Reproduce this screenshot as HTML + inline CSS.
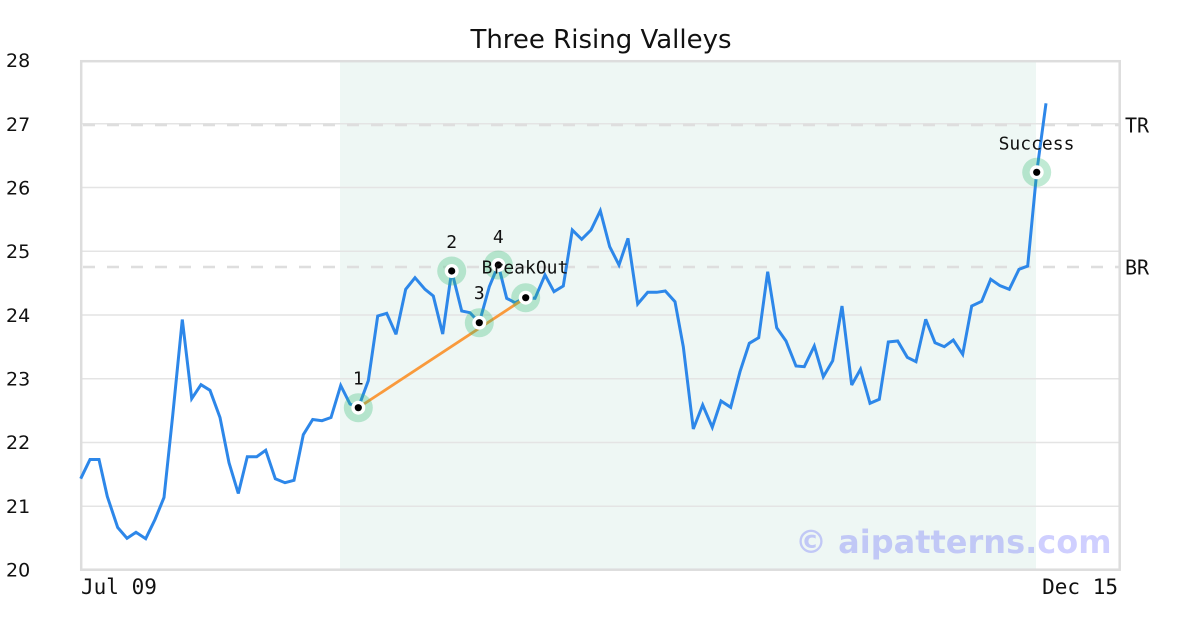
<!DOCTYPE html>
<html>
<head>
<meta charset="utf-8">
<style>
  html, body { margin: 0; padding: 0; background: #ffffff; }
  body { width: 1200px; height: 630px; overflow: hidden; }
  svg { display: block; }
  .mono { font-family: "DejaVu Sans Mono", "Liberation Mono", monospace; }
  .sans { font-family: "DejaVu Sans", "Liberation Sans", sans-serif; }
</style>
</head>
<body>
<svg width="1200" height="630" viewBox="0 0 1200 630" xmlns="http://www.w3.org/2000/svg">
  <rect x="0" y="0" width="1200" height="630" fill="#ffffff"/>

  <!-- title -->
  <text x="601" y="48" text-anchor="middle" class="sans" font-size="26" fill="#111">Three Rising Valleys</text>

  <!-- shaded pattern region -->
  <rect x="340" y="61" width="696" height="508" fill="#eef7f4"/>

  <!-- grid lines -->
  <g stroke="#e4e4e4" stroke-width="1.5">
    <line x1="81" y1="123.75" x2="1120" y2="123.75"/>
    <line x1="81" y1="187.5" x2="1120" y2="187.5"/>
    <line x1="81" y1="251.25" x2="1120" y2="251.25"/>
    <line x1="81" y1="315" x2="1120" y2="315"/>
    <line x1="81" y1="378.75" x2="1120" y2="378.75"/>
    <line x1="81" y1="442.5" x2="1120" y2="442.5"/>
    <line x1="81" y1="506.25" x2="1120" y2="506.25"/>
  </g>

  <!-- TR / BR dashed lines -->
  <g stroke="#dedede" stroke-width="2.5" stroke-dasharray="12,12">
    <line x1="83" y1="125" x2="1120" y2="125"/>
    <line x1="83" y1="267" x2="1120" y2="267"/>
  </g>

  <!-- frame -->
  <rect x="81.2" y="61.2" width="1038.5" height="508.5" fill="none" stroke="#dddddd" stroke-width="2.5"/>

  <!-- y tick labels -->
  <g class="sans" font-size="19" fill="#111" dominant-baseline="central">
    <text x="6" y="61">28</text>
    <text x="6" y="125">27</text>
    <text x="6" y="188.5">26</text>
    <text x="6" y="252">25</text>
    <text x="6" y="316">24</text>
    <text x="6" y="379.5">23</text>
    <text x="6" y="443">22</text>
    <text x="6" y="507">21</text>
    <text x="6" y="570.5">20</text>
  </g>

  <!-- x tick labels -->
  <text x="81" y="594" class="mono" font-size="21" fill="#111">Jul 09</text>
  <text x="1118" y="594" class="mono" font-size="21" fill="#111" text-anchor="end">Dec 15</text>

  <!-- TR / BR labels -->
  <text x="1125" y="132.5" class="mono" font-size="20" fill="#111">TR</text>
  <text x="1125" y="274.5" class="mono" font-size="20" fill="#111">BR</text>

  <!-- watermark -->
  <text x="795" y="553" class="sans" font-size="32" font-weight="bold" fill="rgba(0,0,255,0.19)">© aipatterns.com</text>

  <!-- price line -->
  <polyline fill="none" stroke="#2d87e9" stroke-width="3" stroke-linejoin="miter" stroke-miterlimit="3"
    points="80.7,478.7 90,459.5 99,459.5 107.3,496.5 117.7,527.5 127,538.3 136,532.3 145.7,538.7 155,519.5 164,497.5 172.7,415.5 182.3,319.5 191.7,398.7 201,384.7 210,390.3 220,417.5 229,462.7 238.3,493.5 247.3,456.7 256.7,456.7 265.7,450.3 275.3,478.7 285,482.7 294,480.3 303.3,434.7 312.7,419.5 322,420.7 331,417.5 340.7,385.5 350,404 358.3,407.7 368.3,380.7 377.7,316 386.7,313.3 396,334.3 405.7,289.3 415,277.7 425,289.3 433.3,296 442.7,334 451.7,271 461.7,311 470,312.7 479.3,322.7 489.3,286.7 498.3,265 506.7,298.3 515,302.7 525.7,297.7 535,298.3 545,275 554,291.7 563.3,286 572.3,230 581.7,239.3 591,230 600.3,210.7 609.7,246.7 619,265 628,238.3 637.7,304 647.7,292.3 656.7,292.3 665.3,291 675,301.7 683.3,346.7 693.3,429 702.7,405 712.3,427.3 721,401 730.7,407.3 740,371.7 749.3,343.3 758.7,337.7 767.7,271.7 776.7,327.7 786,341 796,366 804.3,366.7 814.3,346 823.3,376.7 832.7,360.7 842,306 851.7,385 860.5,369.3 870,403.3 879.3,399.3 888.3,342 897.7,341 907.3,357.3 916,361.7 925.7,319.3 935,342.7 944.3,346.7 953.3,340 962.7,354.3 971.7,306 981.7,301.3 990.7,279.3 1000,285.7 1009.3,289.3 1019,269.3 1027.7,266 1036.7,172.3 1046,103.3"/>

  <!-- trend line -->
  <line x1="358.3" y1="407.7" x2="525.7" y2="297.7" stroke="#f99a3c" stroke-width="2.8"/>

  <!-- markers -->
  <g>
    <g fill="rgba(46,184,114,0.3)">
      <circle cx="358.3" cy="407.7" r="14.5"/>
      <circle cx="451.7" cy="271" r="14.5"/>
      <circle cx="479.3" cy="322.7" r="14.5"/>
      <circle cx="498.3" cy="265" r="14.5"/>
      <circle cx="525.7" cy="297.7" r="14.5"/>
      <circle cx="1036.7" cy="172.3" r="14.5"/>
    </g>
    <g fill="#ffffff">
      <circle cx="358.3" cy="407.7" r="7"/>
      <circle cx="451.7" cy="271" r="7"/>
      <circle cx="479.3" cy="322.7" r="7"/>
      <circle cx="498.3" cy="265" r="7"/>
      <circle cx="525.7" cy="297.7" r="7"/>
      <circle cx="1036.7" cy="172.3" r="7"/>
    </g>
    <g fill="#000000">
      <circle cx="358.3" cy="407.7" r="3.6"/>
      <circle cx="451.7" cy="271" r="3.6"/>
      <circle cx="479.3" cy="322.7" r="3.6"/>
      <circle cx="498.3" cy="265" r="3.6"/>
      <circle cx="525.7" cy="297.7" r="3.6"/>
      <circle cx="1036.7" cy="172.3" r="3.6"/>
    </g>
  </g>

  <!-- marker labels -->
  <g class="mono" font-size="18" fill="#111" text-anchor="middle">
    <text x="358.3" y="384.5">1</text>
    <text x="451.7" y="248">2</text>
    <text x="479.3" y="299">3</text>
    <text x="498.3" y="243">4</text>
    <text x="525" y="273.5">BreakOut</text>
    <text x="1036.5" y="149.3">Success</text>
  </g>
</svg>
</body>
</html>
